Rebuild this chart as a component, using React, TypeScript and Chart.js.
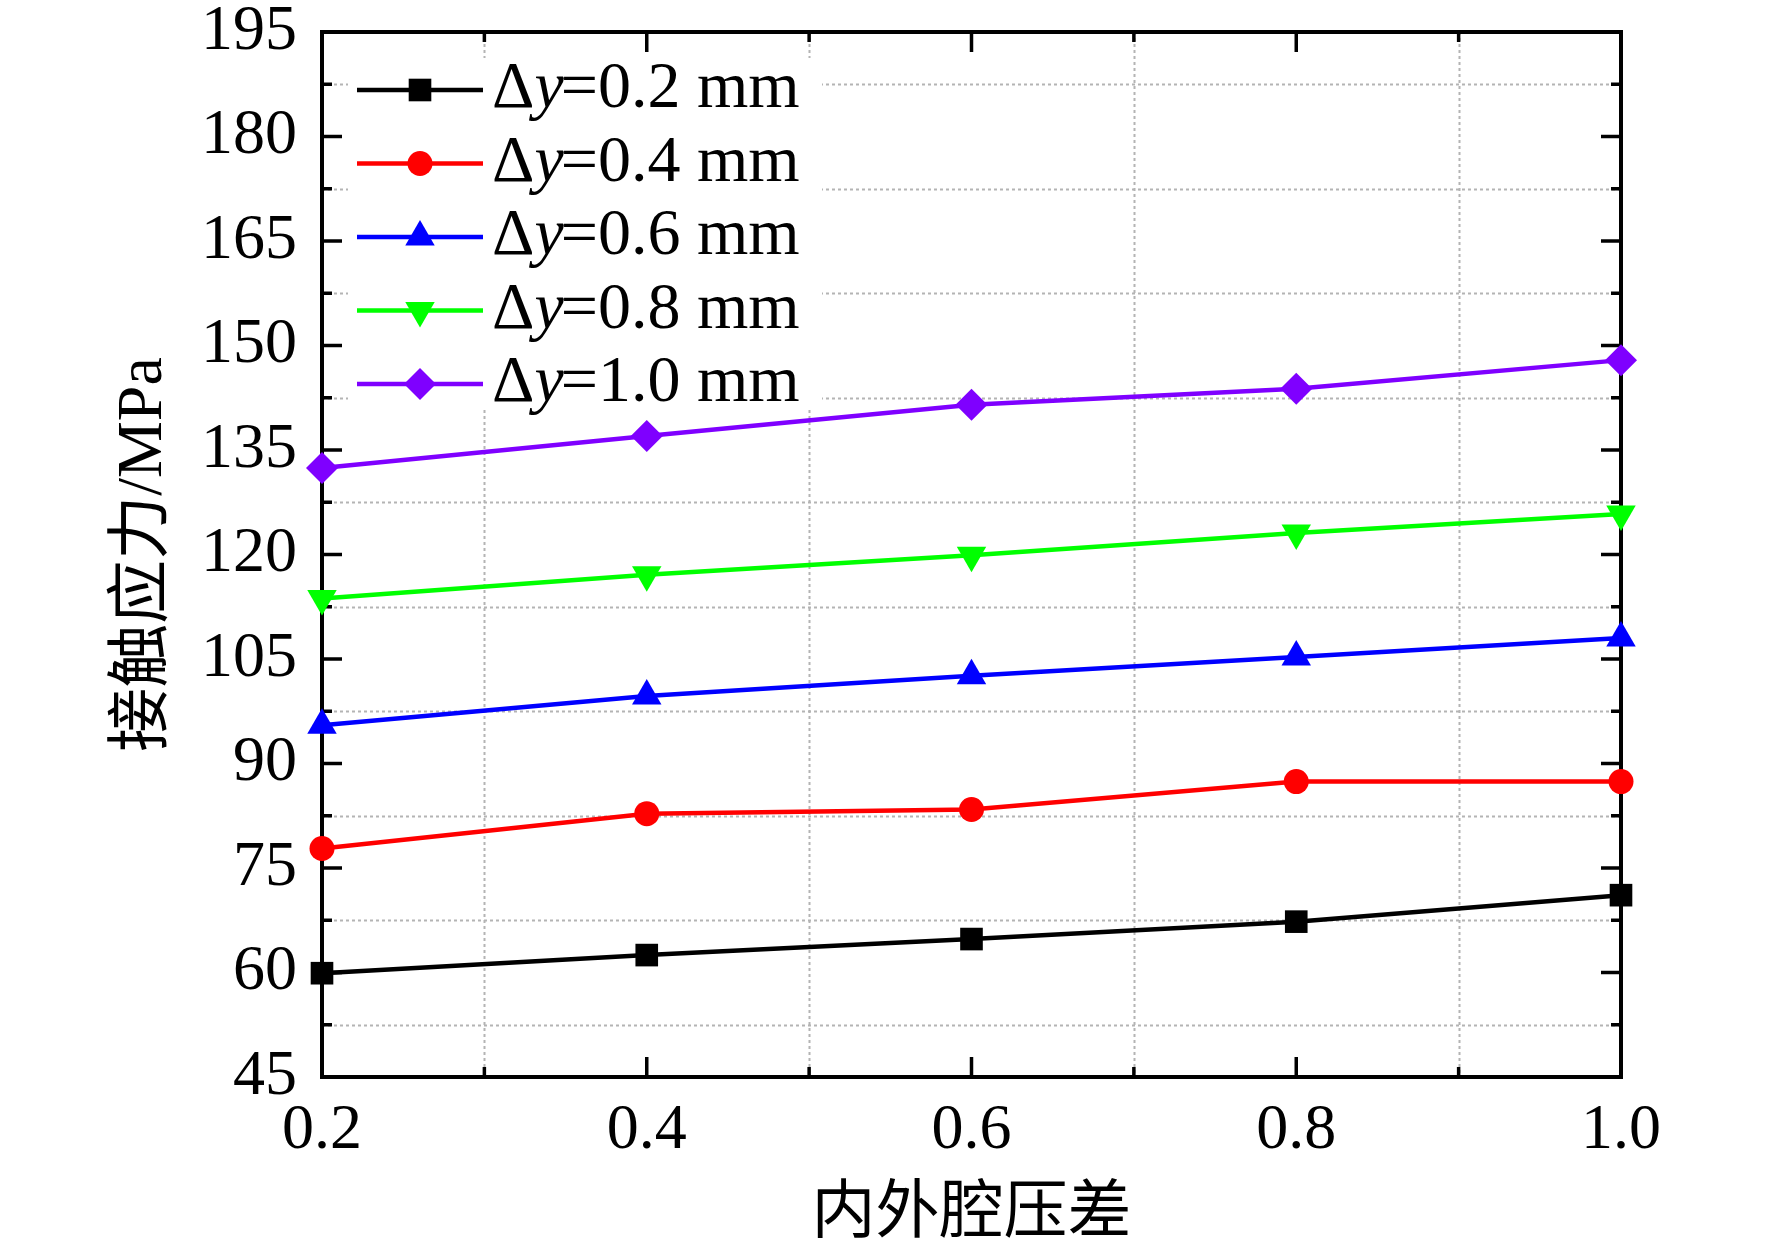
import React, { useEffect, useRef } from 'react';
import { Chart, registerables } from 'chart.js';
import { drawPoint } from 'chart.js/helpers';

Chart.register(...registerables);

const SERIF = "'Liberation Serif', 'Noto Sans CJK SC', serif";

// Data
const pressureDiff = [0.2, 0.4, 0.6, 0.8, 1.0];
const seriesDy02 = [59.9, 62.5, 64.8, 67.3, 71.1];
const seriesDy04 = [77.8, 82.8, 83.4, 87.4, 87.4];
const seriesDy06 = [95.5, 99.7, 102.6, 105.3, 108.0];
const seriesDy08 = [113.7, 117.1, 119.9, 123.1, 125.8];
const seriesDy10 = [132.4, 137.0, 141.5, 143.8, 147.9];
const seriesLabels = ['Δy=0.2 mm', 'Δy=0.4 mm', 'Δy=0.6 mm', 'Δy=0.8 mm', 'Δy=1.0 mm'];
const seriesColors = ['#000000', '#ff0000', '#0000ff', '#00ff00', '#7f00ff'];

// Ticks
const xTicks = [0.2, 0.4, 0.6, 0.8, 1.0];
const xMinorTicks = [0.3, 0.5, 0.7, 0.9];
const yTicks = [45, 60, 75, 90, 105, 120, 135, 150, 165, 180, 195];
const yMinorTicks = [52.5, 67.5, 82.5, 97.5, 112.5, 127.5, 142.5, 157.5, 172.5, 187.5];

const xTitle = '内外腔压差';
const yTitle = '接触应力/MPa';

const framePlugin = {
  id: 'originFrame',
  beforeDatasetsDraw(chart: any) {
    const ctx = chart.ctx;
    const { left, right, top, bottom } = chart.chartArea;
    const xs = chart.scales.x;
    const ys = chart.scales.y;
    ctx.save();
    // minor grid
    ctx.strokeStyle = '#b4b4b4';
    ctx.lineWidth = 2;
    ctx.setLineDash([3, 3]);
    yMinorTicks.forEach((v) => {
      const py = Math.round(ys.getPixelForValue(v)) + 0.5;
      ctx.beginPath();
      ctx.moveTo(left, py);
      ctx.lineTo(right, py);
      ctx.stroke();
    });
    xMinorTicks.forEach((v) => {
      const px = Math.round(xs.getPixelForValue(v)) + 0.5;
      ctx.beginPath();
      ctx.moveTo(px, top);
      ctx.lineTo(px, bottom);
      ctx.stroke();
    });
    ctx.setLineDash([]);
    // legend background
    ctx.fillStyle = '#ffffff';
    ctx.fillRect(left + 26, top + 26, 474, 352);
    // frame
    ctx.strokeStyle = '#000000';
    ctx.lineWidth = 4;
    ctx.strokeRect(left, top, right - left, bottom - top);
    // ticks
    ctx.lineWidth = 3.5;
    const tick = (x1: number, y1: number, x2: number, y2: number) => {
      ctx.beginPath();
      ctx.moveTo(x1, y1);
      ctx.lineTo(x2, y2);
      ctx.stroke();
    };
    xTicks.forEach((v) => {
      const px = xs.getPixelForValue(v);
      tick(px, bottom, px, bottom - 20);
      tick(px, top, px, top + 20);
    });
    xMinorTicks.forEach((v) => {
      const px = xs.getPixelForValue(v);
      tick(px, bottom, px, bottom - 10);
      tick(px, top, px, top + 10);
    });
    yTicks.forEach((v) => {
      const py = ys.getPixelForValue(v);
      tick(left, py, left + 20, py);
      tick(right, py, right - 20, py);
    });
    yMinorTicks.forEach((v) => {
      const py = ys.getPixelForValue(v);
      tick(left, py, left + 10, py);
      tick(right, py, right - 10, py);
    });
    ctx.restore();
  },
  afterDatasetsDraw(chart: any) {
    const ctx = chart.ctx;
    const { left, top } = chart.chartArea;
    chart.data.datasets.forEach((ds: any, i: number) => {
      const cy = top + 58 + i * 73.5;
      ctx.save();
      ctx.strokeStyle = ds.borderColor;
      ctx.lineWidth = 4.5;
      ctx.beginPath();
      ctx.moveTo(left + 35, cy);
      ctx.lineTo(left + 161, cy);
      ctx.stroke();
      ctx.fillStyle = ds.pointBackgroundColor;
      ctx.strokeStyle = ds.pointBackgroundColor;
      drawPoint(
        ctx,
        { pointStyle: ds.pointStyle, radius: ds.pointRadius, rotation: ds.pointRotation || 0, borderWidth: 0 } as any,
        left + 98,
        cy
      );
      ctx.fillStyle = '#000000';
      ctx.textBaseline = 'middle';
      ctx.textAlign = 'left';
      const label: string = ds.label;
      let x = left + 170;
      ctx.font = `66px ${SERIF}`;
      ctx.fillText(label.slice(0, 1), x, cy);
      x += ctx.measureText(label.slice(0, 1)).width;
      ctx.font = `italic 66px ${SERIF}`;
      ctx.fillText(label.slice(1, 2), x, cy);
      x += ctx.measureText(label.slice(1, 2)).width - 3;
      ctx.font = `66px ${SERIF}`;
      ctx.fillText(label.slice(2), x, cy);
      ctx.restore();
    });
  },
};

export default function App() {
  const canvasRef = useRef<HTMLCanvasElement | null>(null);

  useEffect(() => {
    if (!canvasRef.current) return;
    const allSeries = [seriesDy02, seriesDy04, seriesDy06, seriesDy08, seriesDy10];
    const styles = [
      { pointStyle: 'rect', pointRadius: 16, pointRotation: 0 },
      { pointStyle: 'circle', pointRadius: 12.5, pointRotation: 0 },
      { pointStyle: 'triangle', pointRadius: 17, pointRotation: 0 },
      { pointStyle: 'triangle', pointRadius: 17, pointRotation: 180 },
      { pointStyle: 'rectRot', pointRadius: 16, pointRotation: 0 },
    ];
    const datasets = allSeries.map((vals, i) => ({
      label: seriesLabels[i],
      data: pressureDiff.map((x, j) => ({ x, y: vals[j] })),
      borderColor: seriesColors[i],
      backgroundColor: seriesColors[i],
      pointBackgroundColor: seriesColors[i],
      pointBorderColor: seriesColors[i],
      pointBorderWidth: 0,
      borderWidth: 4.5,
      tension: 0,
      clip: false as any,
      ...styles[i],
    }));

    const chart = new Chart(canvasRef.current, {
      type: 'line',
      data: { datasets },
      plugins: [framePlugin],
      options: {
        animation: false,
        responsive: false,
        devicePixelRatio: 1,
        layout: { padding: { left: 0, top: 32, right: 151, bottom: 0 } },
        plugins: { legend: { display: false }, tooltip: { enabled: false } },
        scales: {
          x: {
            type: 'linear',
            min: 0.2,
            max: 1.0,
            afterBuildTicks: (s: any) => {
              s.ticks = xTicks.map((v) => ({ value: v }));
            },
            afterFit: (s: any) => {
              s.height = 173;
              s.paddingLeft = 0;
              s.paddingRight = 0;
            },
            grid: { display: false, drawTicks: false },
            border: { display: false },
            ticks: {
              padding: 16,
              color: '#000000',
              font: { family: SERIF, size: 64 },
              maxRotation: 0,
              callback: (v: any) => Number(v).toFixed(1),
            },
            title: {
              display: true,
              text: xTitle,
              color: '#000000',
              font: { family: SERIF, size: 64, lineHeight: 1 },
              padding: { top: 0, bottom: 3 },
            },
          },
          y: {
            type: 'linear',
            min: 45,
            max: 195,
            afterBuildTicks: (s: any) => {
              s.ticks = yTicks.map((v) => ({ value: v }));
            },
            afterFit: (s: any) => {
              s.width = 322;
              s.paddingTop = 0;
              s.paddingBottom = 0;
            },
            grid: { display: false, drawTicks: false },
            border: { display: false },
            ticks: {
              padding: 25,
              color: '#000000',
              font: { family: SERIF, size: 64 },
              callback: (v: any) => String(v),
            },
            title: {
              display: true,
              text: yTitle,
              color: '#000000',
              font: { family: SERIF, size: 64 },
              padding: { top: 106, bottom: 0 },
            },
          },
        },
      },
    });
    return () => chart.destroy();
  }, []);

  return (
    <div style={{ position: 'absolute', left: 0, top: 0, width: 1772, height: 1250, background: '#ffffff' }}>
      <canvas ref={canvasRef} width={1772} height={1250} style={{ width: 1772, height: 1250, display: 'block' }} />
    </div>
  );
}
